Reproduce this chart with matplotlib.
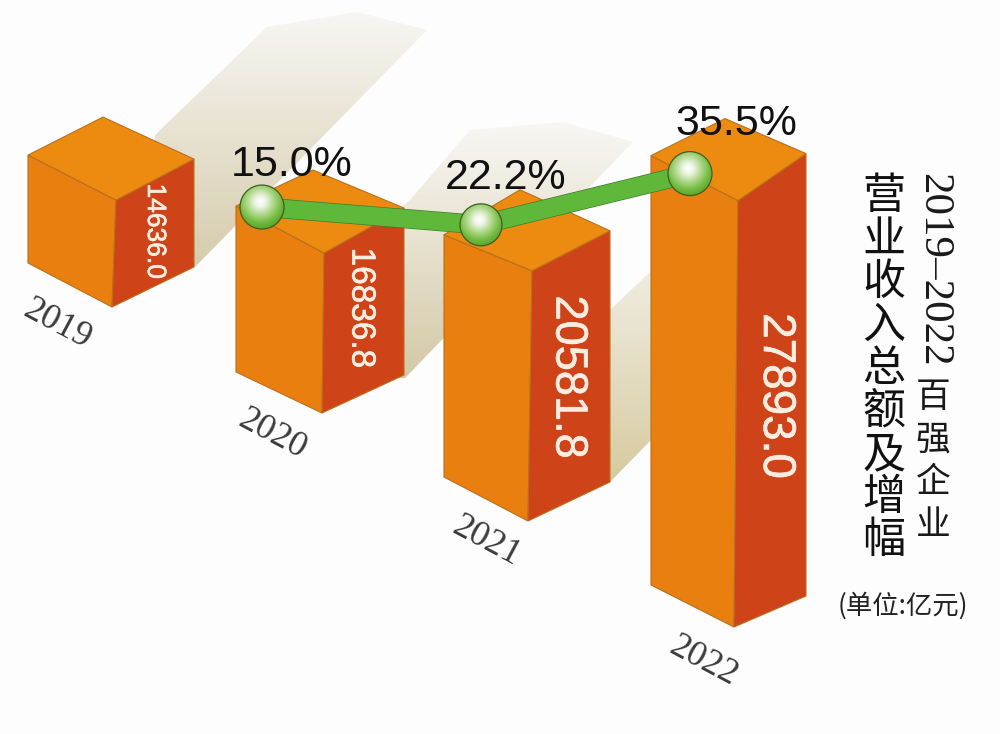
import numpy as np
import matplotlib
matplotlib.use('Agg')
import matplotlib.pyplot as plt
import matplotlib.patheffects as pe
from matplotlib.colors import LinearSegmentedColormap
from matplotlib.patches import Polygon, Circle

# chart data
years = ['2019', '2020', '2021', '2022']
revenue = [14636.0, 16836.8, 20581.8, 27893.0]
growth = [15.0, 22.2, 35.5]
title_top = '2019\u20132022'
title_top_cjk = '百强企业'
title_main = '营业收入总额及增幅'
unit_label = '(单位:亿元)'

# value -> bar height in pixels, the picture cuts the axis off at the base
VALUE_BASE = 10200
PX_PER_VALUE = 0.0241

# layout of the fake 3d boxes, canvas is in image pixels
x_left = [28, 236, 444, 651]
x_right = [194, 404, 610, 806]
x_back = [103, 313, 520, 725]
x_front_top = [116, 324, 532, 738]
x_front_bot = [112, 322, 528, 734]
floor_y = [307, 413, 521, 627]
floor_left_rise = [44, 41, 44, 42]
floor_right_rise = [40, 38, 39, 31]
top_left_rise = [45, 47, 36, 45]
top_right_rise = [41, 45, 40, 47]
top_back_rise = [83, 83, 81, 82]

# where the spheres sit on the bar tops
ball_dx = [26, 37, 39]
ball_dy = [-46, -46, -27]
ball_r = [22, 21, 22]
growth_label_pos = [(292, 165), (506, 178), (736, 124)]
value_label_pos = [(155, 231), (361, 308), (568, 377), (776, 396)]
value_label_size = [19, 24, 32.5, 33]
year_label_pos = [(57, 324), (272, 434), (486, 541), (703, 661)]

LEFT_COL = '#E97F0E'
TOP_COL = '#EC8B10'
RIGHT_COL = '#CE4317'
EDGE_COL = '#B8701E'
SANS = 'Liberation Sans'
SERIF = 'Liberation Serif'
CJK = 'Noto Sans CJK SC'

fig = plt.figure(figsize=(10, 7.34), dpi=100, facecolor='#FDFDFE')
ax = fig.add_axes([0, 0, 1, 1])
ax.axis('off')


def bar_height(v):
    return (v - VALUE_BASE) * PX_PER_VALUE


def gradient_poly(points, y0, y1, col_far, col_near, zorder=1):
    # polygon filled with a vertical fade, y0 gets col_far and y1 gets col_near
    cmap = LinearSegmentedColormap.from_list('fade', [col_far, col_near])
    xs = [p[0] for p in points]
    grad = np.linspace(0, 1, 256).reshape(-1, 1)
    im = ax.imshow(grad, cmap=cmap, extent=[min(xs), max(xs), y1, y0],
                   aspect='auto', zorder=zorder, origin='upper')
    patch = Polygon(points, closed=True, transform=ax.transData, fc='none', ec='none')
    ax.add_patch(patch)
    im.set_clip_path(patch)


# faded shadow bands behind the bars
gradient_poly([(155, 135), (267, 27), (357, 12), (427, 30), (195, 267), (150, 267)],
              12, 267, '#F7F6F3', '#D6CCAC')
gradient_poly([(350, 250), (410, 200), (470, 130), (563, 122), (633, 142), (405, 378), (350, 378)],
              122, 378, '#F8F7F4', '#D4C9A6')
gradient_poly([(610, 310), (650, 272), (700, 225), (700, 390), (610, 482)],
              225, 482, '#F6F5F0', '#D6CA9E')

# the boxes
tops = []
for i, v in enumerate(revenue):
    h = bar_height(v)
    top_y = floor_y[i] - h
    tops.append(top_y)

    left_face = [(x_left[i], top_y - top_left_rise[i]), (x_front_top[i], top_y),
                 (x_front_bot[i], floor_y[i]), (x_left[i], floor_y[i] - floor_left_rise[i])]
    right_face = [(x_front_top[i], top_y), (x_right[i], top_y - top_right_rise[i]),
                  (x_right[i], floor_y[i] - floor_right_rise[i]), (x_front_bot[i], floor_y[i])]
    top_face = [(x_left[i], top_y - top_left_rise[i]), (x_back[i], top_y - top_back_rise[i]),
                (x_right[i], top_y - top_right_rise[i]), (x_front_top[i], top_y)]

    ax.add_patch(Polygon(left_face, fc=LEFT_COL, ec=EDGE_COL, lw=0.8, zorder=3))
    ax.add_patch(Polygon(right_face, fc=RIGHT_COL, ec=EDGE_COL, lw=0.8, zorder=3))
    ax.add_patch(Polygon(top_face, fc=TOP_COL, ec=EDGE_COL, lw=0.8, zorder=3))

    ax.text(value_label_pos[i][0], value_label_pos[i][1], f'{v:.1f}', rotation=-90,
            ha='center', va='center', color='#FCEDE0', fontsize=value_label_size[i],
            family=SANS, zorder=8,
            path_effects=[pe.withStroke(linewidth=0.5, foreground='#FCEDE0')])

    ax.text(year_label_pos[i][0], year_label_pos[i][1], years[i], rotation=-28,
            rotation_mode='anchor', ha='center', va='center', color='#3A3A3A',
            fontsize=26, family=SERIF, zorder=8)

# green growth line, the balls rest on the last three bars
ball_x = [x_left[i + 1] + ball_dx[i] for i in range(3)]
ball_y = [tops[i + 1] + ball_dy[i] for i in range(3)]
ax.plot(ball_x, ball_y, color='#5FB83A', lw=13, solid_capstyle='butt', zorder=5,
        path_effects=[pe.Stroke(linewidth=14, foreground='#3F7A2A'), pe.Normal()])

ball_cmap = LinearSegmentedColormap.from_list(
    'ball', [(0, '#FFFFFF'), (0.2, '#EEF5E6'), (0.5, '#B0D88C'), (0.8, '#74BC40'), (1, '#5FA82E')])
yy, xx = np.mgrid[-1:1:200j, -1:1:200j]
ball_shade = np.clip(np.hypot(xx + 0.08, yy + 0.25) / 1.2, 0, 1)

for i in range(3):
    cx, cy, r = ball_x[i], ball_y[i], ball_r[i]
    im = ax.imshow(ball_shade, cmap=ball_cmap, vmin=0, vmax=1, aspect='auto', zorder=6,
                   extent=[cx - r, cx + r, cy + r, cy - r], origin='upper')
    disc = Circle((cx, cy), r, transform=ax.transData, fc='none', ec='#3E5E22', lw=0.9, zorder=7)
    ax.add_patch(disc)
    im.set_clip_path(disc)
    ax.text(growth_label_pos[i][0], growth_label_pos[i][1], f'{growth[i]:.1f}%', ha='center',
            va='center', color='#111111', fontsize=31, family=SANS, zorder=9)

# vertical title on the right
ax.text(933, 270, title_top, rotation=-90, ha='center', va='center', fontsize=31,
        family=SERIF, color='#1A1A1A', zorder=8)
for ch, y in zip(title_top_cjk, [397, 440, 483, 526]):
    ax.text(933, y, ch, ha='center', va='center', fontsize=25, family=CJK, color='#1A1A1A')
for i, ch in enumerate(title_main):
    ax.text(884, 196.5 + 43.1 * i, ch, ha='center', va='center', fontsize=31, family=CJK,
            weight='medium', color='#111111')
ax.text(903, 606, unit_label, ha='center', va='center', fontsize=19, family=CJK, color='#222222')

ax.set_xlim(0, 1000)
ax.set_ylim(734, 0)

fig.savefig('out.png', dpi=100, facecolor=fig.get_facecolor())
